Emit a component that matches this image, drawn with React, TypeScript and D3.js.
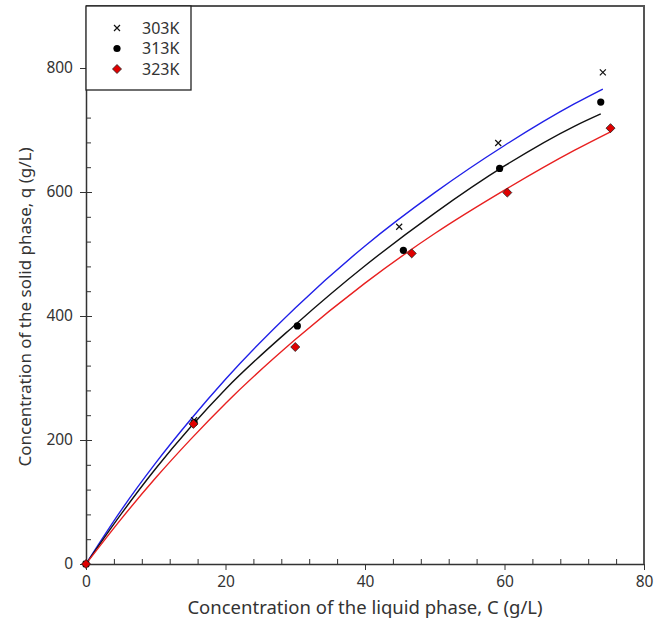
import * as d3 from "d3";
import React, { useEffect, useRef } from "react";

// measured points (C in g/L, q in g/L)
const c303 = [0, 15.5, 44.9, 59.1, 74.1];
const q303 = [0, 232, 544, 679, 793];
const c313 = [0, 15.5, 30.3, 45.5, 59.3, 73.8];
const q313 = [0, 228, 384, 506, 638, 745];
const c323 = [0, 15.4, 30.0, 46.7, 60.4, 75.2];
const q323 = [0, 226, 350, 501, 599, 703];

// fitted curves
const fit303C = [0, 5, 10, 15, 20, 30, 40, 50, 60, 70, 74.1];
const fit303Q = [0, 86, 163, 233, 298, 413, 513, 599, 675, 742, 766];
const fit313C = [0, 5, 10, 15, 20, 30, 40, 50, 60, 70, 73.8];
const fit313Q = [0, 80, 154, 221, 282, 386, 481, 566, 642, 706, 726];
const fit323C = [0, 5, 10, 15, 20, 30, 40, 50, 60, 70, 75.2];
const fit323Q = [0, 72, 139, 201, 259, 362, 453, 533, 603, 667, 697];

const legendLabels = ["303K", "313K", "323K"];
const xTicks = [0, 20, 40, 60, 80];
const yTicks = [0, 200, 400, 600, 800];

const FONT = "'Noto Sans', 'DejaVu Sans', sans-serif";
const TEXT = "#333";

const App = () => {
  const ref = useRef<SVGSVGElement>(null);

  useEffect(() => {
    const width = 666;
    const height = 641;
    const margin = { top: 6, right: 22, bottom: 77, left: 86 };

    const svg = d3.select(ref.current).attr("width", width).attr("height", height);
    svg.selectAll("*").remove();

    const x = d3.scaleLinear().domain([0, 80]).range([margin.left, width - margin.right]);
    const y = d3.scaleLinear().domain([0, 900]).range([height - margin.bottom, margin.top]);

    const zip = (cs: number[], qs: number[]) => cs.map((c, i) => ({ c, q: qs[i] }));

    // minor ticks inside
    const xMinor = d3.range(4, 80, 4).filter((v) => v % 20 !== 0);
    svg
      .append("g")
      .attr("transform", `translate(0, ${y(0)})`)
      .call(d3.axisBottom(x).tickValues(xMinor).tickSize(-5).tickSizeOuter(0).tickFormat(() => ""))
      .call((g) => g.select(".domain").remove())
      .selectAll("line")
      .attr("stroke", "#333");

    const yMinor = d3.range(40, 740, 40);
    svg
      .append("g")
      .attr("transform", `translate(${x(0)}, 0)`)
      .call(d3.axisLeft(y).tickValues(yMinor).tickSize(-5).tickSizeOuter(0).tickFormat(() => ""))
      .call((g) => g.select(".domain").remove())
      .selectAll("line")
      .attr("stroke", "#333");

    // major ticks
    const xAxis = svg
      .append("g")
      .attr("transform", `translate(0, ${y(0)})`)
      .call(d3.axisBottom(x).tickValues(xTicks).tickSize(6).tickSizeOuter(0).tickPadding(6));
    xAxis.select(".domain").attr("stroke", "#333").attr("stroke-width", 1.5);
    xAxis.selectAll("line").attr("stroke", "#333");
    xAxis
      .selectAll("text")
      .attr("fill", TEXT)
      .style("font-family", FONT)
      .style("font-size", "15.5px");

    const yAxis = svg
      .append("g")
      .attr("transform", `translate(${x(0)}, 0)`)
      .call(d3.axisLeft(y).tickValues(yTicks).tickSize(6).tickSizeOuter(0).tickPadding(7));
    yAxis.select(".domain").attr("stroke", "#333").attr("stroke-width", 1.5);
    yAxis.selectAll("line").attr("stroke", "#333").attr("x2", -6).attr("x1", 6);
    yAxis
      .selectAll("text")
      .attr("fill", TEXT)
      .style("font-family", FONT)
      .style("font-size", "15.5px");

    // frame top / right
    svg
      .append("path")
      .attr("d", `M${x(0)},${y(900)}H${x(80)}V${y(0)}`)
      .attr("fill", "none")
      .attr("stroke", "#555")
      .attr("stroke-width", 2);

    // fitted curves
    const line = d3
      .line<{ c: number; q: number }>()
      .x((d) => x(d.c))
      .y((d) => y(d.q))
      .curve(d3.curveMonotoneX);

    const fits = [
      { data: zip(fit303C, fit303Q), color: "#2020e8" },
      { data: zip(fit313C, fit313Q), color: "#111" },
      { data: zip(fit323C, fit323Q), color: "#e82020" },
    ];
    fits.forEach((f) => {
      svg
        .append("path")
        .datum(f.data)
        .attr("d", line)
        .attr("fill", "none")
        .attr("stroke", f.color)
        .attr("stroke-width", 1.4);
    });

    // markers
    const drawCross = (g: any, cx: number, cy: number) => {
      g.append("path")
        .attr("d", `M${cx - 3},${cy - 3}L${cx + 3},${cy + 3}M${cx - 3},${cy + 3}L${cx + 3},${cy - 3}`)
        .attr("stroke", "#111")
        .attr("stroke-width", 1.2);
    };
    const drawDot = (g: any, cx: number, cy: number) => {
      g.append("circle").attr("cx", cx).attr("cy", cy).attr("r", 3.6).attr("fill", "#000");
    };
    const drawDiamond = (g: any, cx: number, cy: number) => {
      g.append("path")
        .attr("d", `M${cx},${cy - 4.5}L${cx + 4.5},${cy}L${cx},${cy + 4.5}L${cx - 4.5},${cy}Z`)
        .attr("fill", "#e00000")
        .attr("stroke", "#222")
        .attr("stroke-width", 0.8);
    };

    const pts = svg.append("g");
    zip(c303, q303).forEach((d) => drawCross(pts, x(d.c), y(d.q)));
    zip(c313, q313).forEach((d) => drawDot(pts, x(d.c), y(d.q)));
    zip(c323, q323).forEach((d) => drawDiamond(pts, x(d.c), y(d.q)));

    // legend
    const lg = svg.append("g");
    lg.append("rect")
      .attr("x", x(0))
      .attr("y", y(900))
      .attr("width", 105)
      .attr("height", 84)
      .attr("fill", "#fff")
      .attr("stroke", "#222")
      .attr("stroke-width", 1.3);
    const markers = [drawCross, drawDot, drawDiamond];
    legendLabels.forEach((label, i) => {
      const ly = 28 + i * 20.5;
      markers[i](lg, 117, ly);
      lg.append("text")
        .attr("x", 142)
        .attr("y", ly)
        .attr("dy", "0.35em")
        .attr("fill", TEXT)
        .style("font-family", FONT)
        .style("font-size", "16px")
        .text(label);
    });

    // axis titles
    svg
      .append("text")
      .attr("x", (x(0) + x(80)) / 2)
      .attr("y", 614)
      .attr("text-anchor", "middle")
      .attr("fill", TEXT)
      .style("font-family", FONT)
      .style("font-size", "18.5px")
      .text("Concentration of the liquid phase, C (g/L)");

    svg
      .append("text")
      .attr("transform", `translate(25, ${(y(0) + y(900)) / 2 + 22}) rotate(-90)`)
      .attr("text-anchor", "middle")
      .attr("dy", "0.35em")
      .attr("fill", TEXT)
      .style("font-family", FONT)
      .style("font-size", "17px")
      .text("Concentration of the solid phase, q (g/L)");
  }, []);

  return (
    <div style={{ position: "absolute", left: 0, top: 0 }}>
      <svg ref={ref}></svg>
    </div>
  );
};

export default App;
